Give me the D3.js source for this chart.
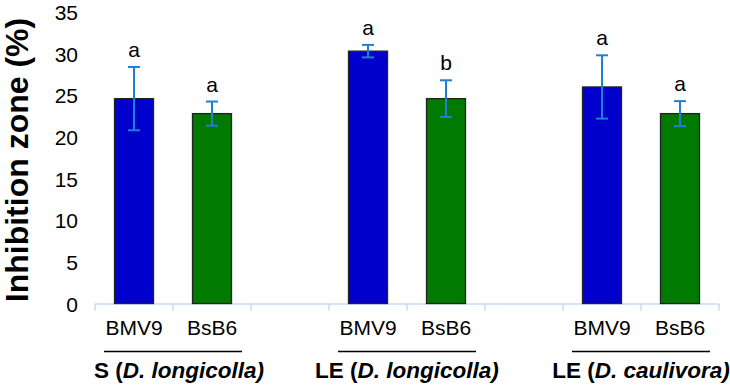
<!DOCTYPE html>
<html>
<head>
<meta charset="utf-8">
<script src="https://cdn.jsdelivr.net/npm/d3@7"></script>
<style>
  body { margin: 0; background: #fff; }
  svg { font-family: 'Liberation Sans', Arial, sans-serif; }
</style>
</head>
<body>
<svg width="730" height="388"></svg>
<script>
// slots along the x axis (empty slots make the gaps between groups)
const slots = ['s0', 's1', 'gap1', 'l0', 'l1', 'gap2', 'c0', 'c1']
const strains = ['BMV9', 'BsB6']
const groups = ['S', 'LE', 'LE']
const species = ['D. longicolla', 'D. longicolla', 'D. caulivora']
const barSlots = ['s0', 's1', 'l0', 'l1', 'c0', 'c1']
const means = [24.6, 22.8, 30.3, 24.6, 26.0, 22.8]
const errs = [3.8, 1.45, 0.75, 2.2, 3.8, 1.5]
const letters = ['a', 'a', 'a', 'b', 'a', 'a']
const yTicks = [0, 5, 10, 15, 20, 25, 30, 35]

const svg = d3.select('svg')

// scales
const x = d3.scaleBand()
  .domain(slots)
  .range([95, 719])
  .paddingInner(0)

const y = d3.scaleLinear()
  .domain([0, 35])
  .range([303.5, 12])

// y axis: labels only, no line
const yAxis = d3.axisLeft(y)
  .tickValues(yTicks)
  .tickSize(0)
  .tickPadding(0)

const yg = svg.append('g')
  .attr('transform', 'translate(78, 0)')
  .call(yAxis)
yg.select('.domain').remove()
yg.selectAll('text')
  .attr('font-size', 21)
  .attr('font-family', "'Liberation Sans', Arial, sans-serif")
  .attr('fill', '#000')
  .attr('dy', '0.36em')

// x axis: light blue baseline with boundary ticks
const xg = svg.append('g').attr('class', 'xaxis')
xg.append('line')
  .attr('x1', x.range()[0]).attr('x2', x.range()[1])
  .attr('y1', y(0) + 0.5).attr('y2', y(0) + 0.5)
  .attr('stroke', '#c6dbef').attr('stroke-width', 1.5)
const bounds = slots.map(s => x(s)).concat([x.range()[1]])
xg.selectAll('line.tick')
  .data(bounds)
  .enter().append('line')
  .attr('class', 'tick')
  .attr('x1', d => d).attr('x2', d => d)
  .attr('y1', y(0) + 0.5).attr('y2', y(0) + 7)
  .attr('stroke', '#c6dbef').attr('stroke-width', 1.5)

// bars
const barW = x.bandwidth() / 2
const bars = svg.append('g')
bars.selectAll('rect')
  .data(means)
  .enter().append('rect')
  .attr('x', (d, i) => x(barSlots[i]) + x.bandwidth() / 2 - barW / 2)
  .attr('y', d => y(d))
  .attr('width', barW)
  .attr('height', d => y(0) - y(d))
  .attr('fill', (d, i) => i % 2 === 0 ? '#0000cc' : '#007a00')
  .attr('stroke', '#222')
  .attr('stroke-width', 1.3)

// error bars
const eb = svg.append('g')
  .attr('stroke', '#1e7fd6')
  .attr('stroke-width', 2)
means.forEach((m, i) => {
  const cx = x(barSlots[i]) + x.bandwidth() / 2
  eb.append('line')
    .attr('x1', cx).attr('x2', cx)
    .attr('y1', y(m + errs[i])).attr('y2', y(m - errs[i]))
  eb.append('line')
    .attr('x1', cx - 6).attr('x2', cx + 6)
    .attr('y1', y(m + errs[i])).attr('y2', y(m + errs[i]))
  eb.append('line')
    .attr('x1', cx - 6).attr('x2', cx + 6)
    .attr('y1', y(m - errs[i])).attr('y2', y(m - errs[i]))
})

// significance letters
svg.append('g').selectAll('text')
  .data(letters)
  .enter().append('text')
  .attr('x', (d, i) => x(barSlots[i]) + x.bandwidth() / 2)
  .attr('y', (d, i) => y(means[i] + errs[i]) - 10)
  .attr('text-anchor', 'middle')
  .attr('font-size', 21)
  .text(d => d)

// strain labels under bars
svg.append('g').selectAll('text')
  .data(barSlots)
  .enter().append('text')
  .attr('x', d => x(d) + x.bandwidth() / 2)
  .attr('y', 335)
  .attr('text-anchor', 'middle')
  .attr('font-size', 21)
  .text((d, i) => strains[i % 2])

// group underline and group label
groups.forEach((g, i) => {
  const cx = x(barSlots[i * 2]) + x.bandwidth()
  svg.append('line')
    .attr('x1', cx - 69).attr('x2', cx + 69)
    .attr('y1', 351.5).attr('y2', 351.5)
    .attr('stroke', '#000').attr('stroke-width', 1.5)
  const t = svg.append('text')
    .attr('x', cx + (i === 0 ? 6 : 0))
    .attr('y', 378)
    .attr('text-anchor', 'middle')
    .attr('font-size', 22.5)
    .attr('font-weight', 'bold')
  t.append('tspan').text(g + ' (')
  t.append('tspan').attr('font-style', 'italic').text(species[i] + ')')
})

// y axis title
svg.append('text')
  .attr('transform', 'translate(28, 160) rotate(-90)')
  .attr('text-anchor', 'middle')
  .attr('font-size', 32)
  .attr('font-weight', 'bold')
  .text('Inhibition zone (%)')
</script>
</body>
</html>
